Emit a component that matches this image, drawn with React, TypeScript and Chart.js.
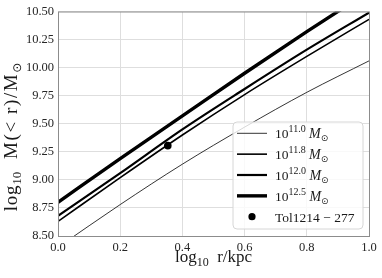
import React, { useEffect, useRef } from 'react';
import { Chart, registerables } from 'chart.js';

Chart.register(...registerables);

// ---- data ----
const logRadius = [0, 0.2, 0.4, 0.6, 0.8, 1.0];
const mass110 = [8.40, 8.78, 9.14, 9.47, 9.78, 10.06];
const mass118 = [8.63, 9.02, 9.40, 9.76, 10.10, 10.43];
const mass120 = [8.68, 9.06, 9.45, 9.81, 10.16, 10.49];
const mass125 = [8.80, 9.19, 9.57, 9.95, 10.32, 10.68];
const haloExponents = ['11.0', '11.8', '12.0', '12.5'];
const galaxyLabel = 'Tol1214 − 277';
const galaxyLogR = [0.353];
const galaxyLogM = [9.305];
const xTickValues = [0, 0.2, 0.4, 0.6, 0.8, 1.0];
const yTickValues = [8.5, 8.75, 9.0, 9.25, 9.5, 9.75, 10.0, 10.25, 10.5];

const SERIF = "'Liberation Serif', 'DejaVu Serif', serif";
const SYMBOL = "'DejaVu Sans', sans-serif";

type Seg = { t: string; size: number; italic?: boolean; dy?: number; family?: string; ls?: number };

function fontOf(s: Seg) {
  return `${s.italic ? 'italic ' : ''}${s.size}px ${s.family ?? SERIF}`;
}
function setSeg(ctx: any, s: Seg) {
  ctx.font = fontOf(s);
  if ('letterSpacing' in ctx) ctx.letterSpacing = `${s.ls ?? 0}px`;
}
function richWidth(ctx: CanvasRenderingContext2D, segs: Seg[]) {
  let w = 0;
  for (const s of segs) {
    setSeg(ctx, s);
    w += ctx.measureText(s.t).width;
  }
  return w;
}
function drawRich(ctx: CanvasRenderingContext2D, segs: Seg[], x: number, y: number) {
  let cx = x;
  for (const s of segs) {
    setSeg(ctx, s);
    ctx.fillText(s.t, cx, y + (s.dy ?? 0));
    cx += ctx.measureText(s.t).width;
  }
  if ('letterSpacing' in ctx) (ctx as any).letterSpacing = '0px';
}

const decor = {
  id: 'decor',
  afterDatasetsDraw(chart: any) {
    const ctx: CanvasRenderingContext2D = chart.ctx;
    const a = chart.chartArea;
    ctx.save();
    // spines
    ctx.strokeStyle = '#8c8c8c';
    ctx.lineWidth = 1;
    ctx.strokeRect(a.left + 0.5, a.top + 0.5, a.right - a.left, a.bottom - a.top);

    ctx.fillStyle = '#1a1a1a';
    ctx.textBaseline = 'alphabetic';
    ctx.textAlign = 'left';

    // x title
    const xt: Seg[] = [
      { t: 'log', size: 17 },
      { t: '10', size: 12, dy: 4 },
      { t: '  r/kpc', size: 17 },
    ];
    const xw = richWidth(ctx, xt);
    drawRich(ctx, xt, (a.left + a.right) / 2 - xw / 2, 262);

    // y title (rotated)
    const yt: Seg[] = [
      { t: 'log', size: 19, ls: 0.8 },
      { t: '10', size: 13, dy: 4 },
      { t: '  M(< r)/M', size: 19, ls: 1.6 },
      { t: '⊙', size: 12, dy: 4, family: SYMBOL },
    ];
    const yw = richWidth(ctx, yt);
    ctx.save();
    ctx.translate(17, 137);
    ctx.rotate(-Math.PI / 2);
    drawRich(ctx, yt, -yw / 2, 0);
    ctx.restore();

    // legend
    const bx = 233, by = 122, bw = 130, bh = 107, r = 4;
    ctx.beginPath();
    ctx.moveTo(bx + r, by);
    ctx.lineTo(bx + bw - r, by);
    ctx.quadraticCurveTo(bx + bw, by, bx + bw, by + r);
    ctx.lineTo(bx + bw, by + bh - r);
    ctx.quadraticCurveTo(bx + bw, by + bh, bx + bw - r, by + bh);
    ctx.lineTo(bx + r, by + bh);
    ctx.quadraticCurveTo(bx, by + bh, bx, by + bh - r);
    ctx.lineTo(bx, by + r);
    ctx.quadraticCurveTo(bx, by, bx + r, by);
    ctx.closePath();
    ctx.fillStyle = 'rgba(255,255,255,0.8)';
    ctx.fill();
    ctx.strokeStyle = '#d6d6d6';
    ctx.lineWidth = 1;
    ctx.stroke();

    const ds = chart.data.datasets;
    const rowY0 = 133.3, rowStep = 20.85;
    ctx.fillStyle = '#1a1a1a';
    for (let i = 0; i < haloExponents.length; i++) {
      const y = rowY0 + i * rowStep;
      ctx.beginPath();
      ctx.strokeStyle = '#000';
      ctx.lineWidth = ds[i].borderWidth;
      ctx.moveTo(237, y);
      ctx.lineTo(267, y);
      ctx.stroke();
      drawRich(ctx, [
        { t: '10', size: 13.5 },
        { t: haloExponents[i], size: 10, dy: -6 },
        { t: ' ', size: 13.5 },
        { t: 'M', size: 14, italic: true },
        { t: '⊙', size: 9, dy: 3, family: SYMBOL },
      ], 275, y + 5);
    }
    const yp = rowY0 + 4 * rowStep;
    ctx.beginPath();
    ctx.arc(252, yp, 3.6, 0, Math.PI * 2);
    ctx.fillStyle = '#000';
    ctx.fill();
    ctx.fillStyle = '#1a1a1a';
    drawRich(ctx, [{ t: galaxyLabel, size: 13.5 }], 275, yp + 5);

    ctx.restore();
  },
};

export default function App() {
  const ref = useRef<HTMLCanvasElement | null>(null);

  useEffect(() => {
    if (!ref.current) return;
    const line = (ys: number[], w: number) => ({
      type: 'scatter' as const,
      data: logRadius.map((x, i) => ({ x, y: ys[i] })),
      showLine: true,
      borderColor: '#000',
      backgroundColor: '#000',
      borderWidth: w,
      pointRadius: 0,
      cubicInterpolationMode: 'monotone' as const,
    });
    const chart = new Chart(ref.current, {
      type: 'scatter',
      data: {
        datasets: [
          line(mass110, 0.8),
          line(mass118, 1.6),
          line(mass120, 2.2),
          line(mass125, 3.4),
          {
            type: 'scatter',
            data: galaxyLogR.map((x, i) => ({ x, y: galaxyLogM[i] })),
            pointRadius: 3.8,
            backgroundColor: '#000',
            borderColor: '#000',
            borderWidth: 0,
          } as any,
        ],
      },
      options: {
        responsive: false,
        animation: false,
        devicePixelRatio: 1,
        layout: { padding: { top: 10, right: 13, bottom: 0, left: 0 } },
        plugins: { legend: { display: false }, tooltip: { enabled: false } },
        scales: {
          x: {
            type: 'linear',
            min: 0,
            max: 1,
            afterBuildTicks: (s: any) => { s.ticks = xTickValues.map((v) => ({ value: v })); },
            afterFit: (s: any) => { s.height = 42; },
            grid: { color: '#dedede', lineWidth: 1, drawTicks: false },
            border: { display: false },
            ticks: {
              padding: 4,
              color: '#262626',
              font: { family: SERIF, size: 12.5 },
              callback: (v: any) => Number(v).toFixed(1),
              maxRotation: 0,
            },
          },
          y: {
            type: 'linear',
            min: 8.5,
            max: 10.5,
            afterBuildTicks: (s: any) => { s.ticks = yTickValues.map((v) => ({ value: v })); },
            afterFit: (s: any) => { s.width = 58; },
            grid: { color: '#dedede', lineWidth: 1, drawTicks: false },
            border: { display: false },
            ticks: {
              padding: 4,
              color: '#262626',
              font: { family: SERIF, size: 12.5 },
              callback: (v: any) => Number(v).toFixed(2),
            },
          },
        },
      },
      plugins: [decor],
    });
    return () => chart.destroy();
  }, []);

  return (
    <div style={{ position: 'fixed', left: 0, top: 0, width: 382, height: 278, background: '#fff' }}>
      <canvas ref={ref} width={382} height={278} style={{ width: 382, height: 278, display: 'block' }} />
    </div>
  );
}
